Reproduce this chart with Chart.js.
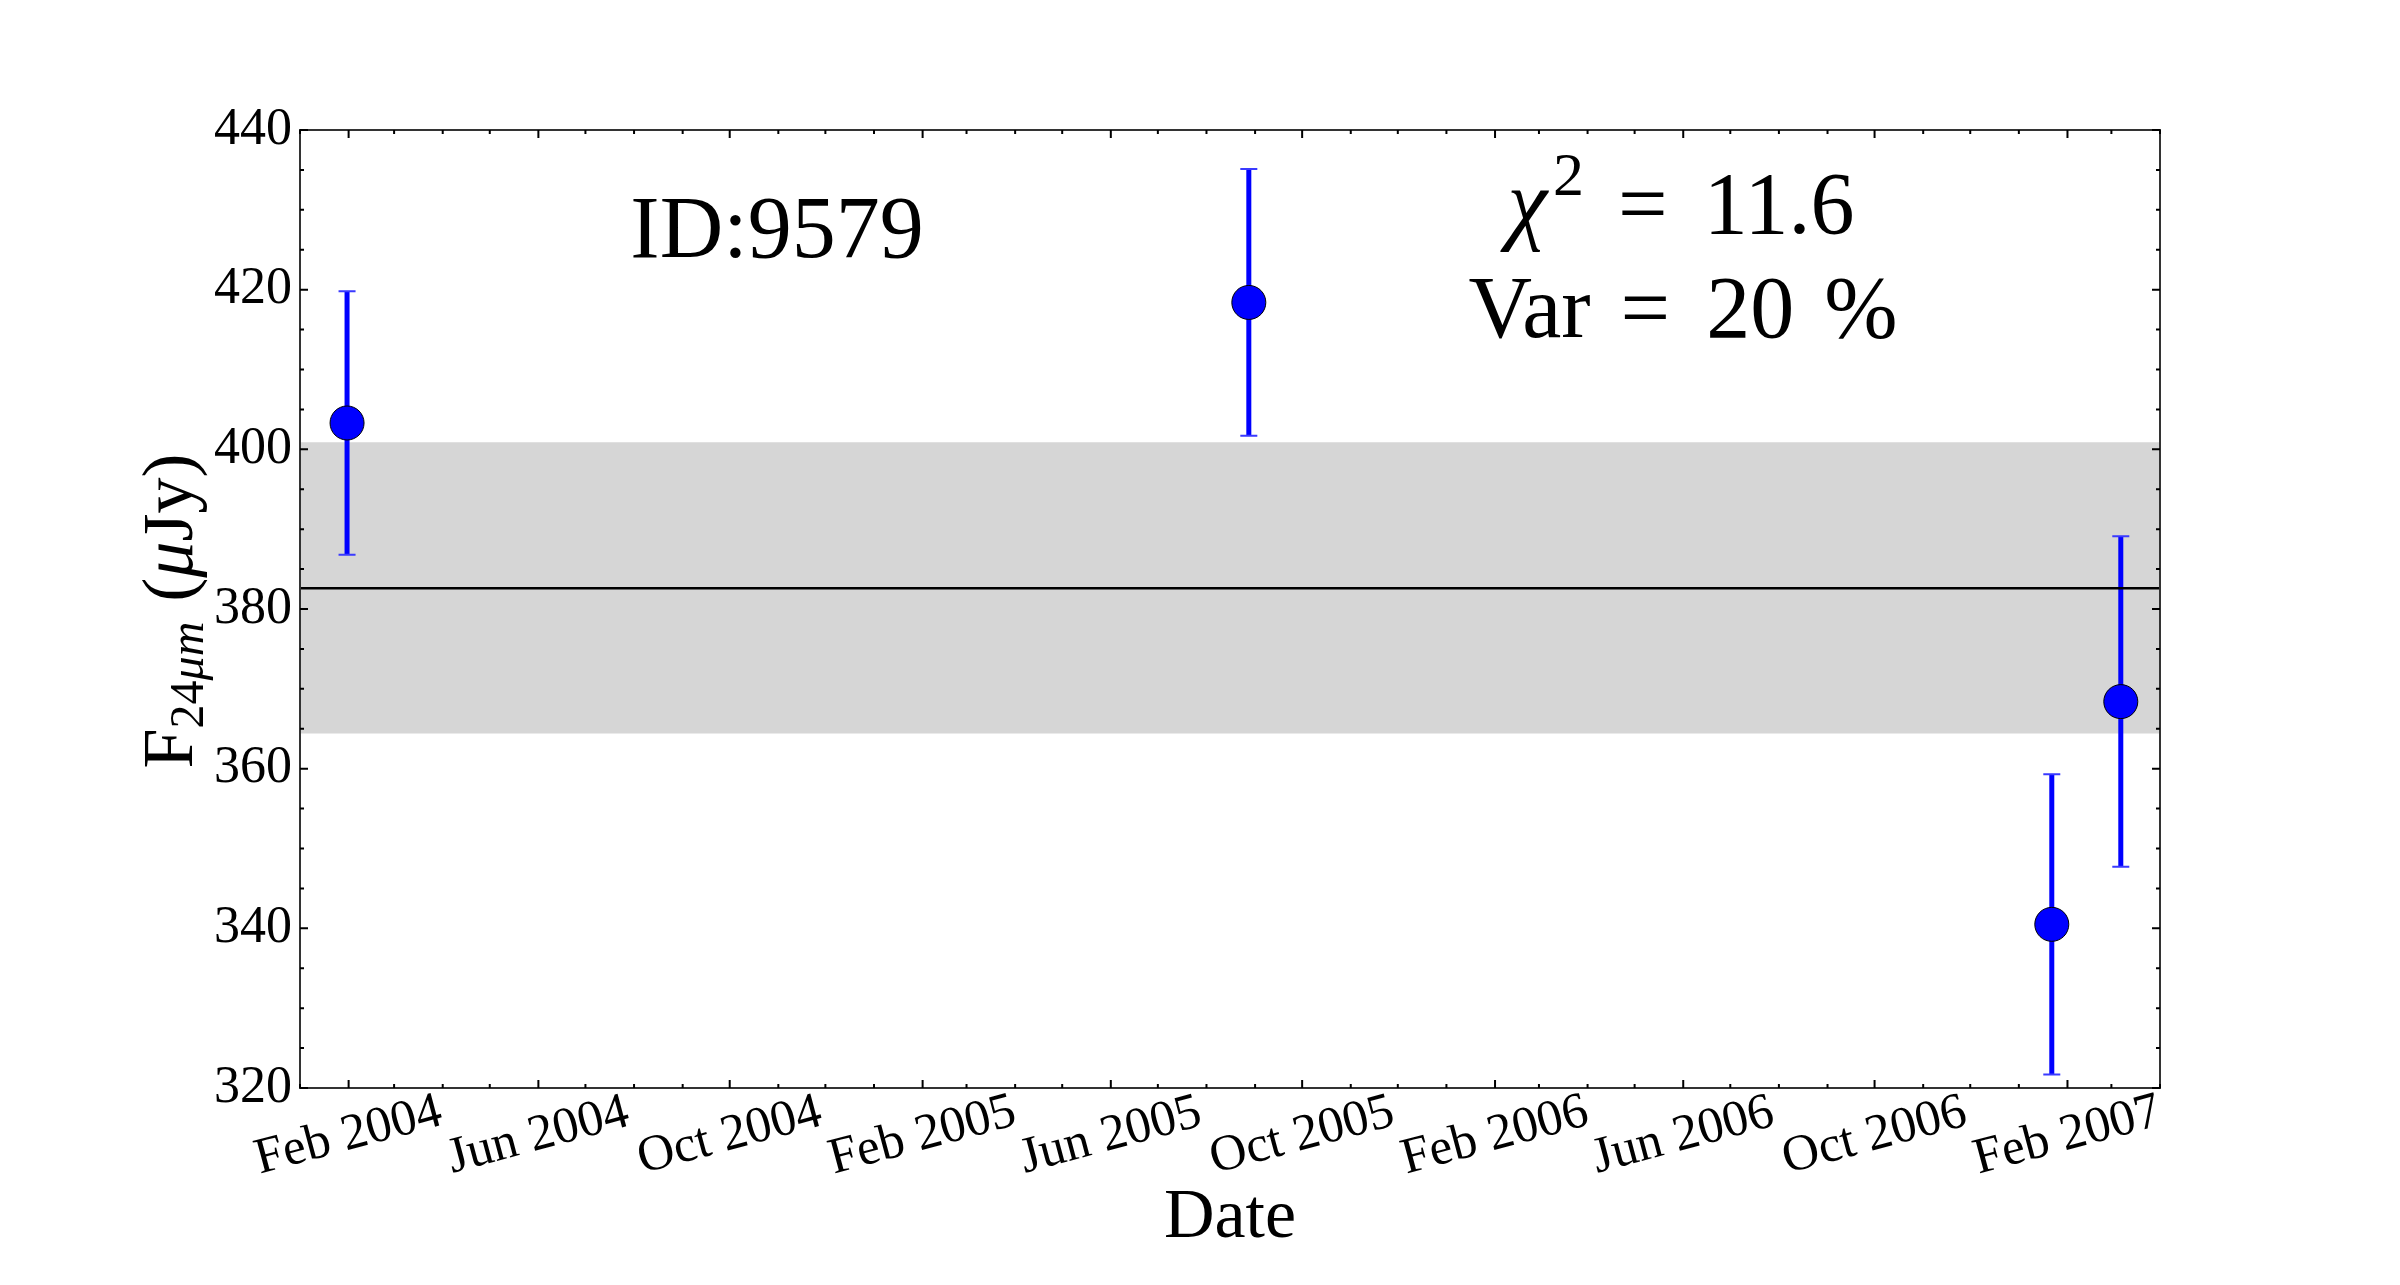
<!DOCTYPE html>
<html><head><meta charset="utf-8">
<script src="https://cdn.jsdelivr.net/npm/chart.js@4.4.1/dist/chart.umd.min.js"></script>
<style>html,body{margin:0;padding:0;background:#fff;}canvas{display:block;}</style>
</head><body>
<canvas id="c" width="2400" height="1285"></canvas>
<script>
// ---- data ----
const obsDates = ['2004-01-31', '2005-08-28', '2007-01-22', '2007-03-07'];
const fluxValues = [403.3, 418.4, 340.5, 368.4];
const fluxErrors = [16.5, 16.7, 18.8, 20.7];
const meanFlux = 382.6;
const bandLow = 364.4;
const bandHigh = 400.9;
const xStart = '2004-01-01';
const xEnd = '2007-04-01';
const xTickDates = ['2004-02-01','2004-06-01','2004-10-01','2005-02-01','2005-06-01','2005-10-01','2006-02-01','2006-06-01','2006-10-01','2007-02-01'];
const yMin = 320, yMax = 440, yStep = 20, yMinorStep = 5;
const monthNames = ['Jan','Feb','Mar','Apr','May','Jun','Jul','Aug','Sep','Oct','Nov','Dec'];
const sourceId = 'ID:9579';
const chi2Value = '11.6';
const varValue = '20';

const FONT = "'Liberation Serif', serif";
function dayNum(s){ const [y,m,d] = s.split('-').map(Number); return Date.UTC(y,m-1,d)/86400000; }
function fmtDay(v){ const dt = new Date(v*86400000); return monthNames[dt.getUTCMonth()] + ' ' + dt.getUTCFullYear(); }

const xMin = dayNum(xStart), xMax = dayNum(xEnd);
const points = obsDates.map((d,i)=>({x: dayNum(d), y: fluxValues[i]}));

// monthly minor ticks
const minorX = [];
{ let dt = new Date(xMin*86400000);
  while (dt.getTime()/86400000 <= xMax + 0.5) { minorX.push(dt.getTime()/86400000); dt = new Date(Date.UTC(dt.getUTCFullYear(), dt.getUTCMonth()+1, 1)); } }
const majorX = xTickDates.map(dayNum);

function drawPieces(ctx, pieces, cx, by){
  let total = 0;
  pieces.forEach(p => { ctx.font = p.f; p.w = ctx.measureText(p.t).width; total += p.w + (p.g||0); });
  let x = cx - total/2;
  ctx.textAlign = 'left'; ctx.textBaseline = 'alphabetic';
  pieces.forEach(p => { x += (p.g||0); ctx.font = p.f; ctx.fillText(p.t, x, by + (p.dy||0)); x += p.w; });
}

const decor = {
  id: 'decor',
  beforeDatasetDraw(chart, args) {
    if (args.index !== 1) return;
    const ctx = chart.ctx, xs = chart.scales.x, ys = chart.scales.y;
    ctx.save();
    points.forEach((p,i) => {
      const px = xs.getPixelForValue(p.x);
      const yt = ys.getPixelForValue(p.y + fluxErrors[i]);
      const yb = ys.getPixelForValue(p.y - fluxErrors[i]);
      ctx.strokeStyle = '#0000ff'; ctx.lineWidth = 5;
      ctx.beginPath(); ctx.moveTo(px, yt); ctx.lineTo(px, yb); ctx.stroke();
      ctx.strokeStyle = '#3a3aff'; ctx.lineWidth = 2;
      ctx.beginPath(); ctx.moveTo(px-8.5, yt); ctx.lineTo(px+8.5, yt); ctx.moveTo(px-8.5, yb); ctx.lineTo(px+8.5, yb); ctx.stroke();
    });
    ctx.restore();
  },
  afterDraw(chart) {
    const ctx = chart.ctx, xs = chart.scales.x, ys = chart.scales.y, a = chart.chartArea;
    ctx.save();
    // frame
    ctx.strokeStyle = '#333'; ctx.lineWidth = 2;
    ctx.strokeRect(a.left, a.top, a.right - a.left, a.bottom - a.top);
    // ticks
    ctx.strokeStyle = '#000'; ctx.lineWidth = 2;
    ctx.beginPath();
    for (let v = yMin; v <= yMax; v += yMinorStep) {
      const py = ys.getPixelForValue(v), L = (v % yStep === 0) ? 8 : 4;
      ctx.moveTo(a.left, py); ctx.lineTo(a.left + L, py);
      ctx.moveTo(a.right, py); ctx.lineTo(a.right - L, py);
    }
    minorX.forEach(v => {
      const px = xs.getPixelForValue(v), L = majorX.some(m => Math.abs(m-v) < 0.5) ? 8 : 4;
      ctx.moveTo(px, a.bottom); ctx.lineTo(px, a.bottom - L);
      ctx.moveTo(px, a.top); ctx.lineTo(px, a.top + L);
    });
    ctx.stroke();
    // x tick labels (rotated, centered)
    ctx.fillStyle = '#000';
    ctx.font = '51px ' + FONT;
    ctx.textAlign = 'center'; ctx.textBaseline = 'middle';
    majorX.forEach(v => {
      const px = xs.getPixelForValue(v);
      ctx.save(); ctx.translate(px, a.bottom + 48); ctx.rotate(-15*Math.PI/180);
      ctx.fillText(fmtDay(v), 0, 0); ctx.restore();
    });
    // x title
    ctx.font = '70px ' + FONT; ctx.textBaseline = 'alphabetic';
    ctx.fillText('Date', (a.left + a.right)/2, 1237);
    // y title
    ctx.save();
    ctx.translate(192, 611); ctx.rotate(-Math.PI/2);
    drawPieces(ctx, [
      {t:'F', f:'72px ' + FONT},
      {t:'24', f:'48px ' + FONT, dy:11},
      {t:'μm', f:'italic 48px ' + FONT, dy:11},
      {t:'(', f:'72px ' + FONT, g:20},
      {t:'μ', f:'italic 72px ' + FONT},
      {t:'Jy)', f:'72px ' + FONT}
    ], 0, 0);
    ctx.restore();
    // annotations
    ctx.textAlign = 'center';
    ctx.font = '88px ' + FONT;
    ctx.fillText(sourceId, 777, 257);
    drawPieces(ctx, [
      {t:'χ', f:'italic 90px ' + FONT},
      {t:'2', f:'62px ' + FONT, dy:-38, g:6},
      {t:'=', f:'88px ' + FONT, g:34},
      {t:chi2Value, f:'88px ' + FONT, g:36}
    ], 1681, 233);
    drawPieces(ctx, [
      {t:'Var', f:'88px ' + FONT},
      {t:'=', f:'88px ' + FONT, g:30},
      {t:varValue, f:'88px ' + FONT, g:36},
      {t:'%', f:'88px ' + FONT, g:30}
    ], 1683, 337);
    ctx.restore();
  }
};

new Chart(document.getElementById('c'), {
  data: {
    datasets: [
      { type: 'scatter', data: points, pointRadius: 17, pointHoverRadius: 17,
        backgroundColor: '#0000ff', borderColor: '#000', borderWidth: 1 },
      { type: 'line', data: [{x:xMin, y:meanFlux}, {x:xMax, y:meanFlux}],
        borderColor: '#000', borderWidth: 2.5, pointRadius: 0, fill: false },
      { type: 'line', data: [{x:xMin, y:bandHigh}, {x:xMax, y:bandHigh}],
        borderWidth: 0, borderColor: 'rgba(0,0,0,0)', pointRadius: 0,
        backgroundColor: '#d6d6d6', fill: {value: bandLow} }
    ]
  },
  options: {
    responsive: false, animation: false, devicePixelRatio: 1,
    layout: { padding: { left: 0, right: 240, top: 130, bottom: 0 } },
    plugins: { legend: { display: false }, tooltip: { enabled: false } },
    scales: {
      x: { type: 'linear', min: xMin, max: xMax,
        afterBuildTicks: s => { s.ticks = majorX.map(v => ({value: v})); },
        afterFit: s => { s.height = 1285 - 1088; },
        ticks: { display: false },
        grid: { display: false, drawTicks: false },
        border: { display: false } },
      y: { min: yMin, max: yMax,
        afterBuildTicks: s => { const t = []; for (let v = yMin; v <= yMax; v += yStep) t.push({value: v}); s.ticks = t; },
        afterFit: s => { s.width = 300; },
        ticks: { color: '#000', font: { family: FONT, size: 52 }, padding: 8 },
        grid: { display: false, drawTicks: false },
        border: { display: false } }
    }
  },
  plugins: [decor]
});
</script>
</body></html>
